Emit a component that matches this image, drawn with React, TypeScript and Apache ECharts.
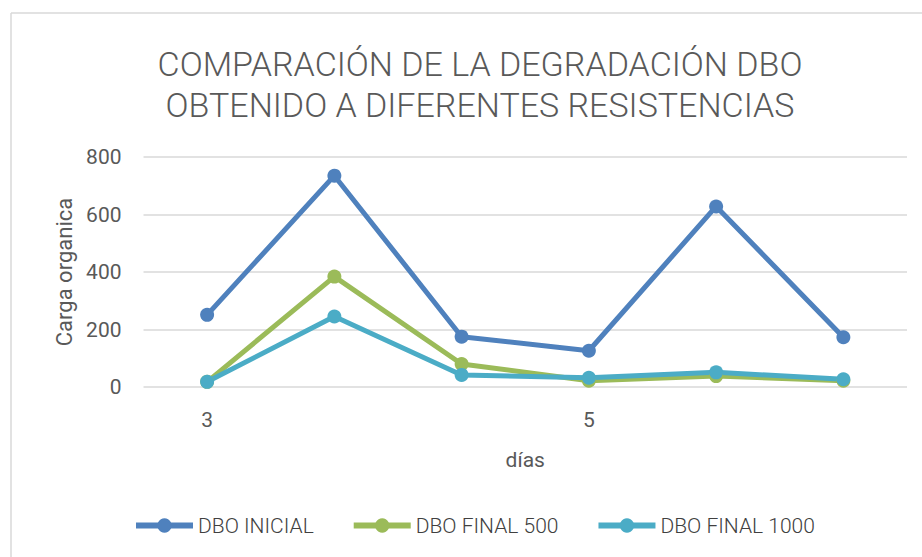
import React, { useEffect, useRef } from "react";
import * as echarts from "echarts";

const categories = ["3", "", "", "5", "", ""];
const dboInicial = [251, 735, 175, 126, 628, 173];
const dboFinal500 = [18, 384, 80, 22, 38, 22];
const dboFinal1000 = [18, 245, 42, 32, 51, 27];
const seriesNames = ["DBO INICIAL", "DBO FINAL 500", "DBO FINAL 1000"];
const colors = ["#4F81BD", "#9BBB59", "#4BACC6"];

const FONT = "Roboto, 'Open Sans', sans-serif";

export default function App() {
  const ref = useRef<HTMLDivElement>(null);
  useEffect(() => {
    if (!ref.current) return;
    const chart = echarts.init(ref.current, undefined, { renderer: "svg" });
    const values = [dboInicial, dboFinal500, dboFinal1000];
    chart.setOption({
      animation: false,
      backgroundColor: "#ffffff",
      textStyle: { fontFamily: FONT },
      graphic: [
        { type: "line", shape: { x1: 11, y1: 13, x2: 922, y2: 13 }, style: { stroke: "#d9d9d9", lineWidth: 1.5 } },
        { type: "line", shape: { x1: 11, y1: 13, x2: 11, y2: 557 }, style: { stroke: "#d9d9d9", lineWidth: 1.5 } },
      ],
      title: {
        text: "COMPARACIÓN DE LA DEGRADACIÓN DBO\nOBTENIDO A DIFERENTES RESISTENCIAS",
        left: 475,
        textAlign: "center",
        top: 38,
        textStyle: { fontFamily: FONT, fontSize: 34, fontWeight: 300, color: "#595959", lineHeight: 41 },
      },
      legend: {
        bottom: 16,
        left: 128,
        itemWidth: 57,
        itemHeight: 18,
        itemGap: 37,
        lineStyle: { width: 6 },
        textStyle: { fontSize: 21, fontWeight: 300, color: "#404040", fontFamily: FONT },
        data: seriesNames,
      },
      grid: { left: 143.5, right: 15, top: 157, bottom: 170, containLabel: false },
      xAxis: {
        type: "category",
        data: categories,
        boundaryGap: true,
        name: "días",
        nameLocation: "middle",
        nameGap: 62,
        nameTextStyle: { fontSize: 21, color: "#595959" },
        axisLine: { show: false },
        axisTick: { show: false },
        axisLabel: { interval: 0, fontSize: 21, color: "#595959", margin: 22 },
      },
      yAxis: {
        type: "value",
        min: 0,
        max: 800,
        interval: 200,
        name: "Carga organica",
        nameLocation: "middle",
        nameGap: 68,
        nameTextStyle: { fontSize: 22, color: "#595959" },
        axisLine: { show: false },
        axisTick: { show: false },
        axisLabel: { fontSize: 21, color: "#595959", margin: 22 },
        splitLine: { lineStyle: { color: "#d9d9d9", width: 1.5 } },
      },
      series: values.map((v, i) => ({
        name: seriesNames[i],
        type: "line",
        data: v,
        color: colors[i],
        symbol: "circle",
        symbolSize: 14,
        lineStyle: { width: 5, color: colors[i] },
        itemStyle: { color: colors[i] },
      })),
    });
    return () => chart.dispose();
  }, []);
  return <div ref={ref} style={{ position: "fixed", left: 0, top: 0, width: 922, height: 557 }} />;
}
